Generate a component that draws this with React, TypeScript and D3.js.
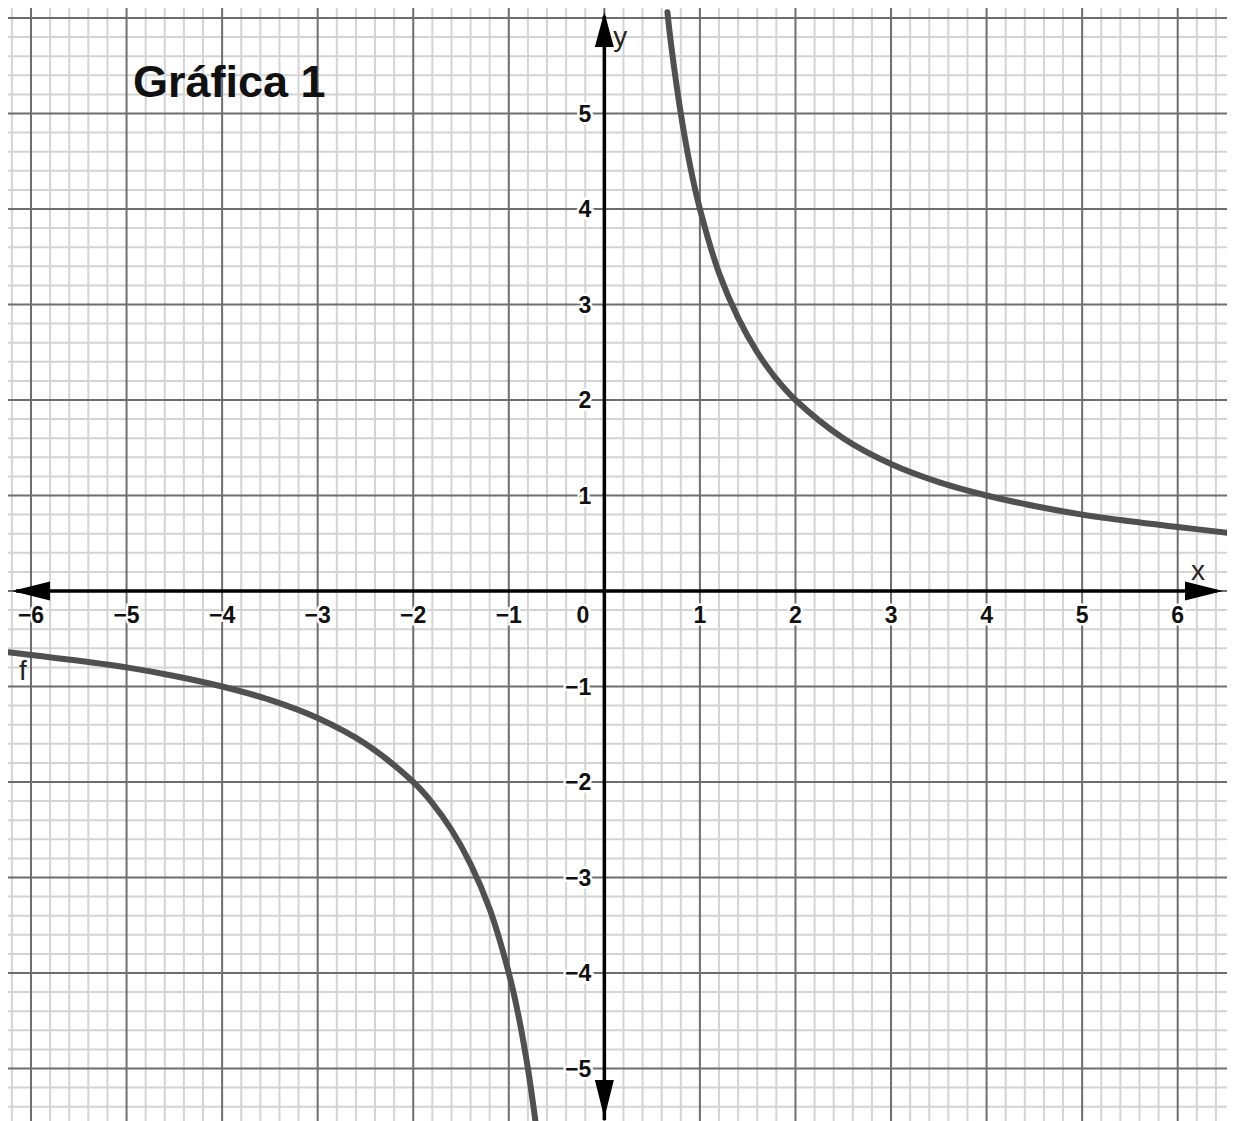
import React from "react";
import * as d3 from "d3";

// ---- data ----
const title = "Gráfica 1";
const xTicks = [-6, -5, -4, -3, -2, -1, 1, 2, 3, 4, 5, 6];
const yTicks = [-5, -4, -3, -2, -1, 1, 2, 3, 4, 5];
const upperX = [0.66, 0.7, 0.8, 0.9, 1, 1.2, 1.4, 1.6, 1.8, 2, 2.5, 3, 3.5, 4, 4.5, 5, 5.5, 6, 6.52];
const upperY = [6.06, 5.71, 5, 4.44, 4, 3.33, 2.86, 2.5, 2.22, 2, 1.6, 1.33, 1.14, 1, 0.89, 0.8, 0.73, 0.67, 0.61];
const lowerX = [-6.24, -6, -5.5, -5, -4.5, -4, -3.5, -3, -2.5, -2, -1.8, -1.6, -1.4, -1.2, -1, -0.9, -0.8, -0.72];
const lowerY = [-0.64, -0.67, -0.73, -0.8, -0.89, -1, -1.14, -1.33, -1.6, -2, -2.22, -2.5, -2.86, -3.33, -4, -4.44, -5, -5.56];

const W = 1219;
const H = 1113;

const fmt = (v: number) => (v < 0 ? "\u2212" + Math.abs(v) : String(v));

export default function App() {
  const x = d3.scaleLinear().domain([-6, 6]).range([23, 1169.7]);
  const y = d3.scaleLinear().domain([-5, 6]).range([1060.5, 10]);
  const x0 = x(0);
  const y0 = y(0);

  const xMin = x.invert(0), xMax = x.invert(W);
  const yMin = y.invert(H), yMax = y.invert(0);
  const minorX: number[] = [];
  for (let i = Math.ceil(xMin * 5); i <= Math.floor(xMax * 5); i++) if (i % 5 !== 0) minorX.push(i / 5);
  const minorY: number[] = [];
  for (let i = Math.ceil(yMin * 5); i <= Math.floor(yMax * 5); i++) if (i % 5 !== 0) minorY.push(i / 5);
  const majorX = d3.range(Math.ceil(xMin), Math.floor(xMax) + 1);
  const majorY = d3.range(Math.ceil(yMin), Math.floor(yMax) + 1);

  const line = d3
    .line<[number, number]>()
    .x((d) => x(d[0]))
    .y((d) => y(d[1]))
    .curve(d3.curveCatmullRom.alpha(0.5));
  const upper = line(upperX.map((v, i) => [v, upperY[i]] as [number, number])) || "";
  const lower = line(lowerX.map((v, i) => [v, lowerY[i]] as [number, number])) || "";

  const font = "Arial, 'Liberation Sans', Helvetica, sans-serif";
  const labelStyle = {
    fontFamily: font,
    fontWeight: 700,
    fontSize: 23,
    fill: "#111",
    stroke: "#fff",
    strokeWidth: 5,
    paintOrder: "stroke",
  } as React.CSSProperties;

  return (
    <svg
      width={W}
      height={H}
      style={{ position: "fixed", left: 8, top: 8, display: "block", background: "#fff" }}
    >
      <defs>
        <clipPath id="clip">
          <rect x={0} y={0} width={W} height={H} />
        </clipPath>
      </defs>
      {/* minor grid */}
      <g stroke="#d4d4d4" strokeWidth={2}>
        {minorX.map((v) => (
          <line key={"mx" + v} x1={x(v)} x2={x(v)} y1={0} y2={H} />
        ))}
        {minorY.map((v) => (
          <line key={"my" + v} x1={0} x2={W} y1={y(v)} y2={y(v)} />
        ))}
      </g>
      {/* major grid */}
      <g stroke="#6e6e6e" strokeWidth={2}>
        {majorX.map((v) => (
          <line key={"Mx" + v} x1={x(v)} x2={x(v)} y1={0} y2={H} />
        ))}
        {majorY.map((v) => (
          <line key={"My" + v} x1={0} x2={W} y1={y(v)} y2={y(v)} />
        ))}
      </g>
      {/* title */}
      <text x={125} y={89} style={{ fontFamily: font, fontWeight: 700, fontSize: 45, fill: "#111" }}>
        {title}
      </text>
      {/* tick labels */}
      {xTicks.map((v) => (
        <text key={"tx" + v} x={x(v)} y={y0 + 32} textAnchor="middle" style={labelStyle}>
          {fmt(v)}
        </text>
      ))}
      <text x={x0 - 21.5} y={y0 + 32} textAnchor="middle" style={labelStyle}>
        0
      </text>
      {yTicks.map((v) => (
        <text key={"ty" + v} x={x0 - 13} y={y(v) + 8} textAnchor="end" style={labelStyle}>
          {fmt(v)}
        </text>
      ))}
      {/* axes */}
      <g stroke="#000" strokeWidth={3.5}>
        <line x1={8} x2={W - 10} y1={y0} y2={y0} />
        <line x1={x0} x2={x0} y1={8} y2={H - 1} />
      </g>
      <g fill="#000">
        <path d={`M4,${y0} L42,${y0 - 9.5} L42,${y0 + 9.5} Z`} />
        <path d={`M${W - 4},${y0} L${W - 42},${y0 - 9.5} L${W - 42},${y0 + 9.5} Z`} />
        <path d={`M${x0},4 L${x0 - 9.5},39 L${x0 + 9.5},39 Z`} />
        <path d={`M${x0},${H - 3} L${x0 - 9.5},${H - 41} L${x0 + 9.5},${H - 41} Z`} />
      </g>
      {/* axis names */}
      <text x={x0 + 9} y={38} style={{ fontFamily: font, fontSize: 28, fill: "#222" }}>
        y
      </text>
      <text x={1183} y={572} style={{ fontFamily: font, fontSize: 28, fill: "#222" }}>
        x
      </text>
      {/* curve */}
      <g clipPath="url(#clip)" fill="none" stroke="#505050" strokeWidth={6} strokeLinecap="round">
        <path d={upper} />
        <path d={lower} />
      </g>
      <text x={11} y={672} style={{ fontFamily: font, fontSize: 28, fill: "#222" }}>
        f
      </text>
    </svg>
  );
}
